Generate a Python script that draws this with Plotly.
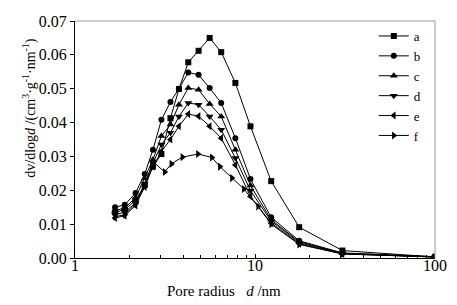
import plotly.graph_objects as go

# Pore radius grid (nm) for series a-e
radius = [1.67, 1.89, 2.17, 2.44, 2.71, 3.02, 3.39, 3.78, 4.26, 4.86, 5.60, 6.49, 7.78, 9.44, 12.3, 17.6, 30.6, 100]
# Pore radius grid for series f
radius_f = [1.67, 1.89, 2.17, 2.44, 2.71, 3.15, 3.43, 3.95, 4.82, 5.76, 6.38, 7.44, 8.67, 10.4, 12.3, 17.6, 30.6, 100]

a = [0.0135, 0.0143, 0.0170, 0.0215, 0.0270, 0.0307, 0.0413, 0.0499, 0.0578, 0.0612, 0.0650, 0.0608, 0.0517, 0.0389, 0.0227, 0.0091, 0.0022, 0.0003]
b = [0.0150, 0.0157, 0.0192, 0.0248, 0.0320, 0.0408, 0.0461, 0.0500, 0.0548, 0.0541, 0.0502, 0.0458, 0.0354, 0.0233, 0.0120, 0.0051, 0.0015, 0.0004]
c = [0.0140, 0.0148, 0.0178, 0.0235, 0.0290, 0.0360, 0.0394, 0.0453, 0.0502, 0.0497, 0.0455, 0.0418, 0.0320, 0.0214, 0.0113, 0.0048, 0.0014, 0.0003]
d = [0.0128, 0.0135, 0.0163, 0.0220, 0.0280, 0.0335, 0.0370, 0.0418, 0.0458, 0.0453, 0.0418, 0.0379, 0.0295, 0.0199, 0.0109, 0.0045, 0.0013, 0.0003]
e = [0.0118, 0.0125, 0.0155, 0.0210, 0.0270, 0.0315, 0.0350, 0.0389, 0.0425, 0.0419, 0.0389, 0.0354, 0.0275, 0.0182, 0.0103, 0.0042, 0.0012, 0.0003]
f = [0.0122, 0.0128, 0.0160, 0.0215, 0.0285, 0.0254, 0.0278, 0.0298, 0.0307, 0.0297, 0.0270, 0.0236, 0.0204, 0.0152, 0.0100, 0.0040, 0.0012, 0.0003]

names = ["a", "b", "c", "d", "e", "f"]
series = [a, b, c, d, e, f]
xs = [radius, radius, radius, radius, radius, radius_f]
symbols = ["square", "circle", "triangle-up", "triangle-down", "triangle-left", "triangle-right"]

FONT = "Liberation Serif"

fig = go.Figure()
for nm, ys, xv, sym in zip(names, series, xs, symbols):
    fig.add_trace(go.Scatter(
        x=xv, y=ys, name=nm, mode="lines+markers",
        line=dict(color="black", width=1),
        marker=dict(symbol=sym, size=6 if sym in ("square", "circle") else 7, color="black"),
    ))

fig.update_layout(
    width=457, height=305,
    margin=dict(l=67, r=30, t=13, b=55),
    paper_bgcolor="white", plot_bgcolor="white",
    font=dict(family=FONT, size=15, color="black"),
    showlegend=True,
    legend=dict(x=0.83, y=1.0, xanchor="left", yanchor="top",
                bgcolor="rgba(0,0,0,0)", font=dict(size=13, family=FONT, color="black"),
                itemwidth=30, tracegroupgap=0),
    xaxis=dict(type="log", range=[0, 2], showgrid=False, zeroline=False,
               showline=True, linecolor="black", linewidth=1,
               ticks="inside", ticklen=4, tickcolor="black",
               tickvals=[1, 10, 100], ticktext=["1", "10", "100"],
               ticklabelstandoff=-7,
               minor=dict(ticks="inside", ticklen=3, tickcolor="black",
                          tickvals=[2, 3, 4, 5, 6, 7, 8, 9, 20, 30, 40, 50, 60, 70, 80, 90]),
               tickfont=dict(size=16, family=FONT, color="black"), automargin=False),
    yaxis=dict(range=[0, 0.07], showgrid=False, zeroline=False,
               showline=True, linecolor="black", linewidth=1,
               ticks="outside", ticklen=4, tickcolor="black",
               tickvals=[0, 0.01, 0.02, 0.03, 0.04, 0.05, 0.06, 0.07],
               ticktext=["0.00", "0.01", "0.02", "0.03", "0.04", "0.05", "0.06", "0.07"],
               tickfont=dict(size=16, family=FONT, color="black"), automargin=False),
)

# gray top/right frame
fig.add_shape(type="line", xref="paper", yref="paper", x0=0, x1=1, y0=1, y1=1,
              line=dict(color="#999999", width=1))
fig.add_shape(type="line", xref="paper", yref="paper", x0=1, x1=1, y0=0, y1=1,
              line=dict(color="#999999", width=1))

fig.add_annotation(text="Pore radius   <i>d</i> /nm", xref="paper", yref="paper",
                   x=0.415, y=-0.139, xanchor="center", yanchor="middle", showarrow=False,
                   font=dict(size=15, family=FONT, color="black"))
fig.add_annotation(text="dv/dlog<i>d</i> /(cm<sup>3</sup>·g<sup>-1</sup>·nm<sup>-1</sup>)",
                   xref="paper", yref="paper", x=-0.125, y=0.63, xanchor="center", yanchor="middle",
                   textangle=-90, showarrow=False, font=dict(size=14, family=FONT, color="black"))

fig.write_html("out.html")
